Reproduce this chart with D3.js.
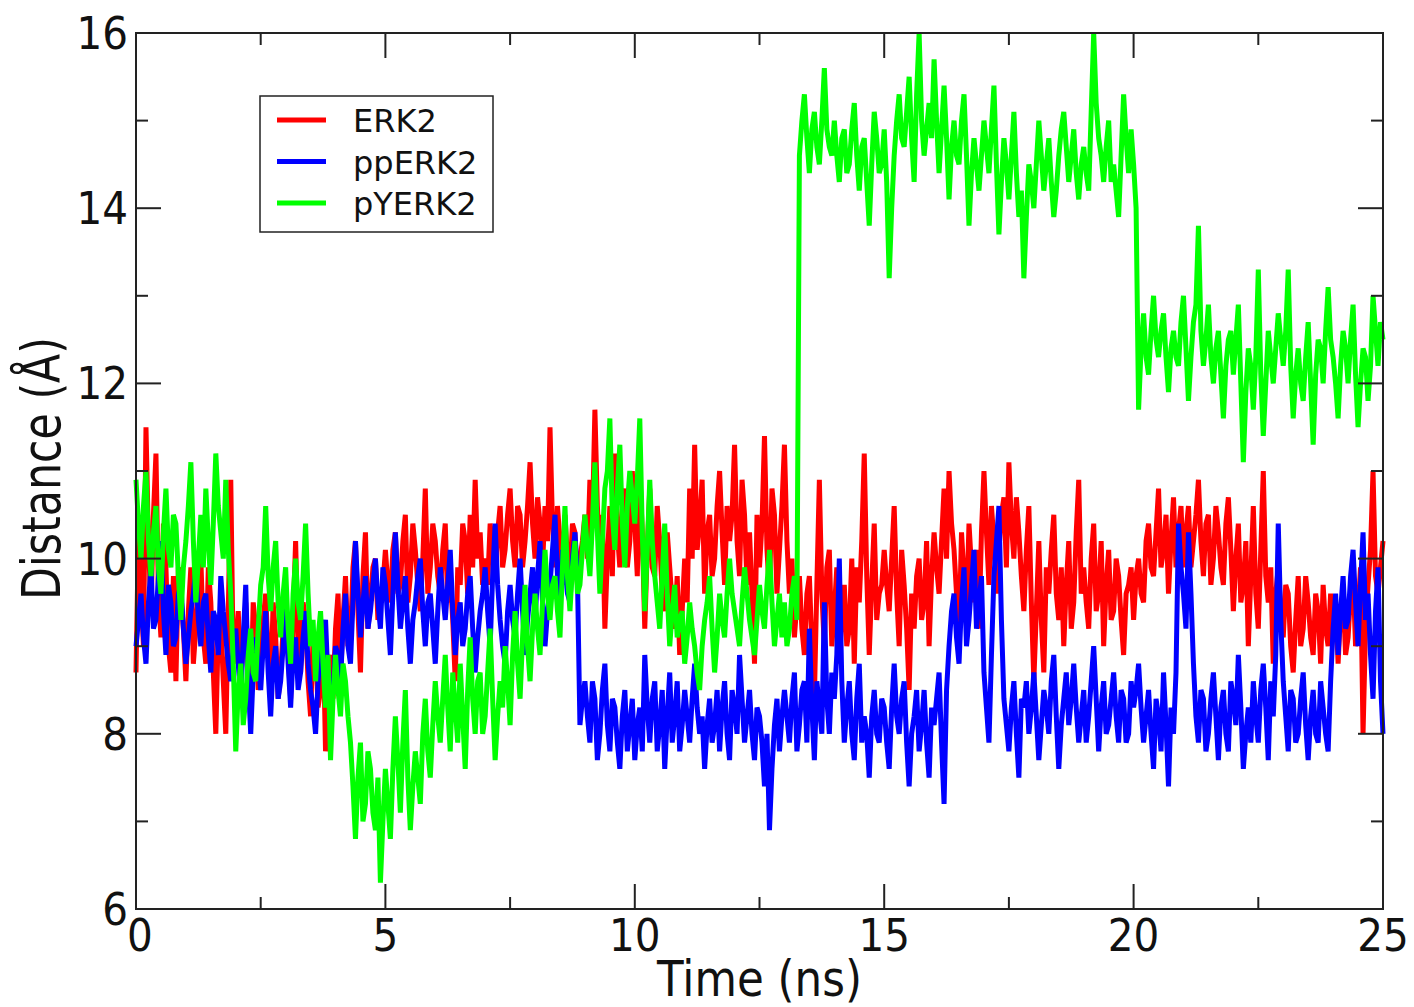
<html>
<head>
<style>
    body { margin: 0; background: #fff; }
    text { font-family: "DejaVu Sans", sans-serif; fill: #111; }
</style>
</head>
<body>
<svg id="chart" width="1414" height="1007"></svg>

<script src="https://d3js.org/d3.v7.min.js"></script>
<script>
// distances in Angstrom, read every 0.1 ns (0 .. 25 ns)
var erk2 = [
    8.7, 9.6, 11.5, 9.4, 11.2, 9.1, 9.9, 8.7, 8.6, 9.6,
    8.6, 9.9, 9.2, 10.0, 8.8, 9.5, 8.0, 9.3, 8.0, 10.9,
    9.0, 8.6, 9.5, 8.3, 9.2, 8.8, 9.6, 8.5, 9.1, 8.7,
    9.4, 8.4, 10.2, 8.7, 9.3, 8.2, 9.0, 8.5, 7.8, 8.9,
    9.2, 8.6, 9.8, 9.1, 10.2, 8.7, 10.3, 9.5, 10.0, 9.6,
    10.1, 9.5, 10.3, 9.7, 10.5, 9.8, 10.1, 9.4, 10.8, 9.9,
    10.2, 9.6, 10.4, 9.8, 8.6, 9.7, 10.2, 10.5, 10.9, 10.3,
    10.0, 10.4, 9.8, 10.6, 10.1, 10.8, 9.9, 10.5, 10.2, 11.1,
    10.0, 10.4, 10.6, 11.5, 9.9, 10.2, 10.5, 9.8, 10.3, 10.0,
    10.5, 10.9, 11.7, 10.0, 9.2, 10.6, 11.2, 9.9, 10.8, 10.2,
    10.4, 11.0, 9.2, 10.8, 9.8, 10.2, 9.4, 9.9, 9.2, 8.9,
    10.0, 10.8, 11.3, 10.4, 9.6, 10.5, 10.0, 11.0, 9.7, 10.2,
    11.3, 9.8, 10.5, 10.3, 8.8, 9.9, 11.4, 9.6, 10.5, 10.1,
    11.3, 9.6, 9.1, 9.8, 8.9, 9.8, 8.4, 10.9, 9.0, 10.1,
    9.4, 8.8, 9.7, 9.2, 8.8, 9.5, 11.2, 8.9, 10.4, 9.6,
    10.1, 9.4, 10.6, 9.0, 9.7, 8.5, 9.2, 10.0, 9.5, 9.0,
    10.3, 9.6, 10.8, 11.0, 10.1, 9.1, 9.8, 10.4, 9.5, 9.2,
    11.0, 9.7, 10.2, 10.1, 10.7, 11.1, 10.0, 10.3, 9.4, 10.6,
    8.6, 10.2, 8.7, 9.6, 10.5, 9.3, 9.0, 10.2, 9.5, 10.9,
    9.9, 9.2, 10.4, 9.6, 9.0, 10.1, 9.4, 9.8, 8.9, 9.7,
    9.3, 10.0, 9.5, 10.4, 9.8, 10.8, 10.1, 9.6, 10.7, 10.3,
    9.9, 10.6, 10.2, 10.9, 9.8, 10.5, 10.0, 10.3, 9.7, 10.7,
    9.4, 10.4, 9.7, 9.0, 10.6, 9.2, 11.0, 9.5, 8.8, 9.9,
    9.1, 9.6, 8.7, 9.8, 9.2, 9.5, 8.9, 9.4, 9.7, 9.0,
    9.3, 8.8, 9.6, 9.1, 9.8, 9.4, 8.0, 9.7, 11.0, 9.6,
    10.2
];
// readings half way between, at 0.05, 0.15, ... ns
var erk2Half = [
    10.3, 9.0, 10.2, 10.5, 9.6, 10.4, 9.0, 9.8, 9.9, 9.2,
    9.4, 8.8, 9.7, 9.1, 9.9, 8.7, 9.2, 8.6, 9.4, 8.8,
    9.4, 9.0, 8.7, 9.5, 8.5, 9.3, 8.9, 9.5, 8.4, 9.2,
    8.9, 9.3, 9.0, 9.5, 8.6, 9.1, 8.3, 9.2, 8.7, 8.4,
    9.6, 9.3, 9.0, 9.9, 9.4, 9.8, 9.2, 9.9, 9.3, 9.7,
    9.7, 10.1, 9.6, 10.2, 9.5, 10.4, 9.7, 10.0, 9.6, 10.4,
    9.8, 10.1, 9.5, 9.3, 9.9, 10.4, 9.6, 9.9, 10.0, 9.7,
    9.7, 10.1, 10.3, 9.9, 10.5, 10.2, 10.6, 9.9, 10.6, 10.4,
    10.7, 9.9, 10.2, 10.4, 10.6, 9.7, 10.0, 10.4, 9.7, 10.2,
    10.0, 10.4, 10.6, 10.5, 10.0, 9.8, 10.3, 10.6, 9.9, 11.0,
    9.8, 10.3, 10.1, 9.9, 10.6, 9.6, 10.3, 9.5, 9.8, 9.4,
    9.5, 10.0, 10.1, 10.9, 10.3, 9.8, 10.6, 10.3, 10.6, 10.5,
    10.2, 10.9, 9.7, 9.6, 10.5, 10.4, 10.1, 10.8, 9.6, 10.6,
    10.2, 10.0, 9.5, 9.2, 9.6, 9.0, 9.7, 9.6, 9.9, 9.0,
    9.9, 9.3, 9.0, 10.0, 9.9, 10.2, 9.8, 9.7, 9.3, 9.7,
    9.7, 10.0, 9.6, 10.1, 9.2, 9.6, 9.8, 9.3, 10.2, 9.8,
    9.9, 10.2, 10.0, 10.4, 9.6, 10.3, 9.4, 9.9, 10.1, 10.3,
    10.3, 10.6, 9.6, 10.5, 9.9, 10.4, 10.7, 9.8, 10.1, 9.5,
    9.4, 9.3, 9.9, 10.1, 9.6, 9.9, 9.7, 9.2, 10.3, 9.6,
    9.5, 10.0, 9.4, 10.2, 9.7, 9.3, 10.0, 9.3, 9.6, 9.9,
    9.8, 9.6, 10.2, 9.9, 10.3, 9.9, 10.5, 10.2, 9.9, 10.6,
    10.3, 9.9, 10.5, 10.2, 10.4, 9.7, 10.6, 9.9, 10.4, 10.1,
    10.0, 9.5, 10.2, 9.8, 9.6, 10.1, 9.8, 9.9, 9.6, 9.4,
    9.7, 9.0, 9.3, 9.0, 9.8, 9.1, 9.6, 8.8, 9.2, 9.6,
    9.5, 9.4, 8.9, 9.6, 9.0, 9.9, 9.2, 10.1, 9.8, 9.9
];

var ppErk2 = [
    9.0, 9.6, 8.8, 9.9, 9.3, 10.2, 8.9, 9.5, 9.1, 9.7,
    8.8, 9.4, 9.9, 9.0, 9.6, 8.7, 9.3, 9.8, 9.1, 8.6,
    9.2, 8.4, 9.7, 8.0, 9.1, 8.5, 9.4, 8.2, 9.0, 8.6,
    9.5, 8.3, 9.1, 8.7, 9.4, 8.5, 8.0, 8.9, 9.3, 8.2,
    9.0, 8.6, 9.6, 8.8, 10.2, 9.1, 9.8, 9.4, 10.0, 9.2,
    9.7, 8.9, 10.3, 9.2, 9.8, 8.8, 9.5, 10.0, 9.0, 9.6,
    8.8, 9.9, 9.3, 10.1, 8.9, 9.5, 9.2, 9.8, 8.7, 9.4,
    9.9, 9.0, 10.4, 9.3, 8.8, 9.7, 9.1, 10.0, 8.9, 9.6,
    9.3, 10.2, 9.0, 9.7, 10.5, 9.4, 9.9, 9.5, 10.3, 8.1,
    8.6, 7.9, 8.4, 8.0, 8.8, 7.8, 8.3, 7.6, 8.5, 8.1,
    7.7, 8.3, 8.9, 7.9, 8.6, 8.1, 7.6, 8.7, 8.2, 7.8,
    8.5, 7.9, 8.8, 8.0, 7.6, 8.4, 8.1, 7.8, 8.6, 7.7,
    8.3, 8.9, 7.9, 8.5, 7.7, 8.2, 7.4, 6.9, 8.1, 7.8,
    8.5, 7.9, 8.7, 8.1, 8.6, 9.2, 7.7, 8.3, 9.5, 8.0,
    8.4, 10.0, 7.9, 8.6, 7.7, 8.8, 8.2, 7.5, 8.5, 7.9,
    8.3, 7.6, 8.8, 8.0, 8.6, 7.4, 8.2, 7.8, 8.5, 7.5,
    8.1, 8.7, 7.2, 9.0, 9.6, 8.8, 9.9, 9.3, 10.1, 9.5,
    8.7, 7.9, 9.8, 10.6, 8.4, 7.8, 8.6, 7.5, 8.3, 8.0,
    8.7, 7.7, 8.5, 8.0, 8.9, 7.6, 8.4, 8.1, 8.8, 7.9,
    8.5, 8.2, 9.0, 7.8, 8.6, 8.1, 8.7, 7.9, 8.4, 8.0,
    8.3, 8.8, 7.9, 8.5, 7.6, 8.2, 8.7, 7.4, 8.0, 10.4,
    9.6, 10.3, 8.8, 7.9, 8.4, 8.0, 8.7, 7.7, 8.5, 7.8,
    8.4, 8.9, 7.6, 8.3, 8.6, 7.9, 8.8, 7.7, 8.2, 10.4,
    8.6, 7.8, 8.4, 8.0, 8.7, 7.7, 8.5, 7.9, 8.3, 7.8,
    9.2, 8.9, 9.8, 9.3, 10.1, 9.0, 10.3, 9.6, 8.4, 9.9,
    8.0
];
var ppErk2Half = [
    9.3, 9.1, 9.5, 9.2, 9.8, 9.4, 9.7, 9.0, 9.6, 9.2,
    9.1, 9.6, 9.3, 9.5, 9.1, 9.4, 8.9, 9.4, 8.8, 9.0,
    8.8, 9.1, 8.6, 8.7, 8.8, 9.0, 8.7, 8.8, 8.4, 9.0,
    8.8, 8.9, 8.5, 9.1, 8.8, 8.3, 8.6, 9.1, 8.6, 8.5,
    8.9, 9.2, 9.0, 9.5, 9.6, 9.5, 9.2, 9.7, 9.5, 9.9,
    9.3, 9.6, 9.7, 9.5, 9.2, 9.3, 9.8, 9.4, 9.5, 9.2,
    9.4, 9.6, 9.7, 9.4, 9.3, 9.0, 9.6, 9.2, 9.1, 9.6,
    9.4, 9.8, 9.7, 9.0, 9.4, 9.3, 9.6, 9.4, 9.3, 9.9,
    9.8, 9.5, 9.4, 10.1, 9.8, 10.1, 9.6, 10.0, 9.8, 8.4,
    8.2, 8.6, 7.7, 8.5, 8.1, 8.4, 7.9, 8.2, 7.8, 8.4,
    8.1, 7.8, 8.3, 8.4, 7.8, 8.5, 8.2, 7.9, 8.6, 8.1,
    8.2, 8.4, 8.3, 8.2, 8.1, 7.9, 8.5, 8.3, 8.0, 8.5,
    8.0, 8.4, 8.2, 8.0, 8.3, 7.9, 8.0, 7.6, 8.4, 8.2,
    8.2, 8.4, 7.8, 8.5, 7.9, 8.3, 8.6, 8.0, 8.4, 8.7,
    8.9, 8.6, 8.3, 8.0, 8.4, 7.9, 8.0, 8.2, 8.0, 8.4,
    7.9, 8.3, 8.2, 8.4, 7.9, 8.0, 8.5, 8.1, 7.9, 8.3,
    8.4, 7.9, 8.5, 9.4, 9.1, 9.5, 9.0, 9.7, 9.2, 9.8,
    8.3, 8.9, 10.2, 9.3, 8.1, 8.3, 8.0, 8.4, 8.6, 8.3,
    8.2, 8.1, 8.3, 8.6, 8.2, 8.1, 8.7, 8.4, 8.3, 8.2,
    7.9, 8.6, 8.4, 8.3, 8.0, 8.4, 8.2, 8.5, 7.9, 8.6,
    8.5, 8.3, 8.2, 8.0, 8.4, 7.8, 8.1, 8.3, 8.7, 9.9,
    9.2, 9.6, 8.2, 8.5, 7.8, 8.4, 8.2, 8.3, 8.0, 8.6,
    8.1, 8.3, 8.0, 7.9, 8.2, 8.5, 8.3, 8.6, 8.9, 9.3,
    8.2, 8.5, 7.9, 8.4, 8.1, 8.2, 8.0, 8.6, 8.0, 8.6,
    9.6, 9.4, 9.2, 9.8, 9.5, 9.7, 9.3, 8.9, 9.4, 8.6
];

var pyErk2 = [
    10.9, 10.0, 11.0, 9.8, 10.6, 9.6, 10.8, 9.9, 10.4, 9.3,
    10.2, 11.1, 9.5, 10.5, 10.8, 9.7, 11.2, 10.3, 10.9, 9.6,
    7.8, 8.8, 8.4, 9.2, 8.6, 9.7, 10.6, 9.4, 10.2, 9.1,
    9.9, 8.8, 10.0, 9.3, 10.4, 9.0, 8.6, 9.4, 8.3, 7.7,
    8.9, 8.2, 8.6, 7.9, 6.8, 7.9, 7.2, 7.6, 6.9, 6.3,
    7.6, 6.8, 8.2, 7.1, 8.5, 6.9, 7.8, 7.2, 8.4, 7.5,
    8.6, 7.9, 8.9, 7.8, 8.3, 8.8, 7.6, 9.1, 8.0, 8.7,
    8.2, 9.2, 7.7, 8.6, 9.0, 8.1, 9.4, 8.4, 9.7, 8.6,
    9.6, 8.9, 10.1, 9.3, 9.8, 9.1, 10.6, 9.4, 10.2, 9.7,
    10.5, 9.8, 11.1, 9.6, 10.8, 11.6, 10.1, 11.3, 9.9, 11.0,
    10.4, 11.6, 9.4, 10.9, 9.8, 9.2, 10.4, 9.0, 9.7, 9.3,
    8.8, 9.5, 9.0, 8.5, 9.3, 9.8, 8.7, 9.6, 9.1, 10.0,
    9.4, 9.0, 9.9, 9.3, 8.9, 9.7, 9.2, 10.1, 9.0, 9.6,
    9.5, 9.2, 9.8, 14.6, 15.3, 14.4, 15.1, 14.5, 15.6, 14.7,
    15.0, 14.3, 14.9, 14.5, 15.2, 14.2, 14.8, 13.8, 15.1, 14.4,
    14.9, 13.2, 14.6, 15.3, 14.7, 15.5, 14.3, 16.0, 14.6, 15.2,
    15.7, 14.4, 15.4, 14.1, 15.0, 14.5, 15.3, 13.8, 14.8, 14.2,
    15.0, 14.4, 15.4, 13.7, 14.8, 14.1, 15.1, 13.9, 13.2, 14.5,
    14.0, 15.0, 14.2, 14.8, 13.9, 14.6, 15.1, 14.3, 14.9, 14.1,
    14.7, 14.2, 16.0, 14.8, 14.3, 15.0, 14.5, 13.9, 15.3, 14.4,
    14.5, 11.7, 12.8, 12.1, 13.0, 12.3, 12.8, 11.9, 12.6, 12.2,
    13.0, 11.8, 12.7, 13.8, 12.2, 12.9, 12.0, 12.6, 11.6, 12.5,
    12.1, 12.9, 11.1, 12.4, 11.7, 13.3, 11.4, 12.6, 12.0, 12.8,
    12.2, 13.3, 11.6, 12.4, 11.8, 12.7, 11.3, 12.5, 12.0, 13.1,
    12.3, 11.6, 12.6, 12.0, 12.9, 11.5, 12.4, 11.8, 13.0, 12.2,
    12.5
];
var pyErk2Half = [
    10.4, 10.6, 10.2, 10.3, 9.9, 10.3, 10.1, 10.5, 9.8, 9.9,
    10.6, 10.2, 10.0, 9.9, 10.2, 10.4, 10.6, 10.0, 10.1, 8.8,
    8.5, 8.1, 8.9, 8.7, 9.2, 9.9, 9.8, 9.9, 9.5, 9.6,
    9.2, 9.6, 9.5, 9.8, 9.6, 9.3, 9.1, 8.8, 8.9, 8.4,
    8.5, 8.8, 8.2, 7.4, 7.5, 7.0, 7.8, 7.1, 7.5, 7.0,
    7.2, 7.6, 7.7, 7.9, 7.5, 7.4, 7.5, 8.0, 7.8, 8.1,
    8.2, 8.4, 8.3, 8.7, 7.9, 8.2, 8.5, 8.4, 8.6, 8.0,
    8.7, 8.4, 8.2, 8.3, 8.6, 8.9, 8.8, 9.1, 9.0, 9.2,
    9.2, 9.5, 9.6, 9.7, 9.4, 9.9, 9.8, 9.9, 9.6, 10.1,
    10.1, 10.4, 10.3, 10.2, 11.0, 10.5, 10.8, 10.4, 10.6, 10.7,
    10.9, 10.3, 10.1, 10.2, 9.5, 9.8, 9.6, 9.4, 9.1, 9.4,
    9.1, 9.2, 8.7, 9.0, 9.5, 9.2, 9.1, 9.3, 9.6, 9.6,
    9.2, 9.5, 9.6, 9.1, 9.3, 9.4, 9.7, 9.5, 9.3, 9.1,
    9.0, 9.6, 9.3, 15.0, 14.8, 14.9, 14.7, 15.0, 14.9, 14.6,
    14.6, 14.8, 14.4, 14.9, 14.6, 14.7, 14.3, 14.5, 14.8, 14.5,
    14.3, 14.0, 15.0, 14.8, 15.1, 14.8, 15.3, 15.0, 14.9, 14.8,
    15.0, 14.9, 14.8, 14.7, 14.6, 15.0, 14.6, 14.4, 14.5, 14.6,
    14.7, 14.9, 14.5, 14.3, 14.5, 14.6, 14.4, 14.2, 13.9, 14.3,
    14.5, 14.6, 14.5, 14.3, 14.2, 14.9, 14.7, 14.6, 14.4, 14.5,
    14.4, 15.1, 15.2, 14.6, 14.7, 14.3, 14.2, 14.6, 14.8, 14.9,
    14.0, 12.4, 12.3, 12.6, 12.5, 12.6, 12.3, 12.4, 12.3, 12.7,
    12.4, 12.3, 12.9, 12.6, 12.5, 12.3, 12.4, 12.1, 12.2, 12.6,
    12.5, 12.0, 11.9, 12.2, 12.3, 12.1, 12.0, 12.3, 12.4, 12.5,
    12.6, 12.2, 12.1, 12.0, 12.3, 12.0, 12.1, 12.4, 12.6, 12.5,
    12.0, 12.2, 12.4, 12.5, 12.1, 12.0, 12.3, 12.2, 12.6, 12.7
];

var seriesNames = ["ERK2", "ppERK2", "pYERK2"];
var seriesColors = ["#ff0000", "#0000ff", "#00ff00"];

var xMajor = [0, 5, 10, 15, 20, 25];
var xMinor = [2.5, 7.5, 12.5, 17.5, 22.5];
var yMajor = [6, 8, 10, 12, 14, 16];
var yMinor = [7, 9, 11, 13, 15];

// put the two sets of readings back in time order (0.05 ns apart)
function merge(main, half) {
    var out = [];
    for (var i = 0; i < main.length; i++) {
        out.push({t: i * 0.1, v: main[i]});
        if (i < half.length) out.push({t: i * 0.1 + 0.05, v: half[i]});
    }
    return out;
}
var seriesData = [
    merge(erk2, erk2Half),
    merge(ppErk2, ppErk2Half),
    merge(pyErk2, pyErk2Half)
];

var svg = d3.select("#chart");

// plot box in pixels
var pLeft = 136, pRight = 1383, pTop = 33, pBottom = 909;

var x = d3.scaleLinear().domain([0, 25]).range([pLeft, pRight]);
var y = d3.scaleLinear().domain([6, 16]).range([pBottom, pTop]);

//data lines, red first so green sits on top
var line = d3.line()
    .x(function(d) { return x(d.t); })
    .y(function(d) { return y(d.v); });

seriesData.forEach(function(pts, k) {
    svg.append("path")
        .datum(pts)
        .attr("d", line)
        .attr("fill", "none")
        .attr("stroke", seriesColors[k])
        .attr("stroke-width", 5)
        .attr("stroke-linejoin", "miter")
        .attr("stroke-miterlimit", 3);
});

//frame
svg.append("rect")
    .attr("x", pLeft)
    .attr("y", pTop)
    .attr("width", pRight - pLeft)
    .attr("height", pBottom - pTop)
    .attr("fill", "none")
    .attr("stroke", "#222")
    .attr("stroke-width", 2);

//inward ticks on all four sides
function tickLines(vals, len, horizontal) {
    vals.forEach(function(v) {
        if (horizontal) {
            svg.append("line").attr("x1", x(v)).attr("x2", x(v))
                .attr("y1", pBottom).attr("y2", pBottom - len)
                .attr("stroke", "#222").attr("stroke-width", 2);
            svg.append("line").attr("x1", x(v)).attr("x2", x(v))
                .attr("y1", pTop).attr("y2", pTop + len)
                .attr("stroke", "#222").attr("stroke-width", 2);
        } else {
            svg.append("line").attr("x1", pLeft).attr("x2", pLeft + len)
                .attr("y1", y(v)).attr("y2", y(v))
                .attr("stroke", "#222").attr("stroke-width", 2);
            svg.append("line").attr("x1", pRight).attr("x2", pRight - len)
                .attr("y1", y(v)).attr("y2", y(v))
                .attr("stroke", "#222").attr("stroke-width", 2);
        }
    });
}
tickLines(xMajor, 25, true);
tickLines(xMinor, 12, true);
tickLines(yMajor, 25, false);
tickLines(yMinor, 12, false);

//tick labels
svg.selectAll(".xlab")
    .data(xMajor)
    .enter()
    .append("text")
    .attr("x", function(d) { return x(d) + (d == 0 ? 4 : 0); })
    .attr("y", 951)
    .attr("text-anchor", "middle")
    .style("font-family", "'DejaVu Sans Condensed', 'DejaVu Sans'")
    .style("font-size", "45px")
    .text(function(d) { return d; });

svg.selectAll(".ylab")
    .data(yMajor)
    .enter()
    .append("text")
    .attr("x", 128)
    .attr("y", function(d) { return y(d) + 16; })
    .attr("text-anchor", "end")
    .style("font-family", "'DejaVu Sans Condensed', 'DejaVu Sans'")
    .style("font-size", "45px")
    .text(function(d) { return d; });

//axis titles
svg.append("text")
    .attr("x", 657)
    .attr("y", 996)
    .attr("textLength", 205)
    .attr("lengthAdjust", "spacingAndGlyphs")
    .style("font-size", "50px")
    .text("Time (ns)");

svg.append("text")
    .attr("transform", "translate(60, 600) rotate(-90)")
    .attr("textLength", 263)
    .attr("lengthAdjust", "spacingAndGlyphs")
    .style("font-size", "54px")
    .text("Distance (Å)");

//legend
var legend = svg.append("g");
legend.append("rect")
    .attr("x", 260)
    .attr("y", 96)
    .attr("width", 233)
    .attr("height", 136)
    .attr("fill", "white")
    .attr("stroke", "#222")
    .attr("stroke-width", 1.5);

seriesNames.forEach(function(name, k) {
    var ly = 120 + k * 41.5;
    legend.append("line")
        .attr("x1", 277).attr("x2", 326)
        .attr("y1", ly).attr("y2", ly)
        .attr("stroke", seriesColors[k])
        .attr("stroke-width", 5);
    legend.append("text")
        .attr("x", 353)
        .attr("y", ly + 12)
        .style("font-size", "32px")
        .text(name);
});
</script>
</body>
</html>
